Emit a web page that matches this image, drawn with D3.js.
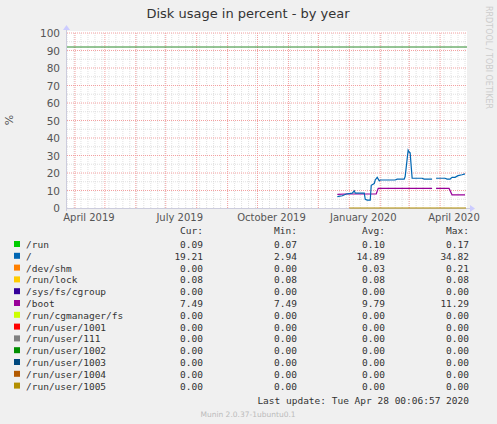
<!DOCTYPE html>
<html><head><meta charset="utf-8">
<script src="https://cdn.jsdelivr.net/npm/d3@7"></script>
<style>body{margin:0;background:#f0f0f0}svg{display:block}</style>
</head><body><svg id="chart" width="497" height="424"></svg>
<script>
const rootDates = ['2019-12-20','2019-12-25','2019-12-29','2020-01-04','2020-01-06','2020-01-07','2020-01-16','2020-01-17','2020-01-19','2020-01-22','2020-01-23','2020-01-26','2020-01-27','2020-01-29','2020-01-31','2020-02-01','2020-02-16','2020-02-18','2020-02-25','2020-02-26','2020-02-29','2020-03-01','2020-03-02','2020-03-04','2020-03-14','2020-03-16','2020-03-24',null,'2020-03-28','2020-04-06','2020-04-08','2020-04-11','2020-04-13','2020-04-16','2020-04-19','2020-04-23','2020-04-26']
const rootValues = [6.5,7,8,8.5,9.8,8.5,8.5,5,4.5,4.5,13,14,16,17.5,15.5,16,16,16.5,16.5,18,33,32,31.5,17,17,16.5,16.5,null,17,17,16.5,16.5,17.5,17.5,18.5,19,19.5]
const bootDates = ['2019-12-20','2019-12-29','2020-01-28','2020-01-30','2020-03-24',null,'2020-03-28','2020-04-10','2020-04-13','2020-04-26']
const bootValues = [7.8,8,8,11.2,11.2,null,11.2,11.2,7.5,7.5]
const zeroDates = ['2020-01-01','2020-04-27']
const warnLevel = 92
const names = ['/run','/','/dev/shm','/run/lock','/sys/fs/cgroup','/boot','/run/cgmanager/fs','/run/user/1001','/run/user/111','/run/user/1002','/run/user/1003','/run/user/1004','/run/user/1005']
const colors = ['#00cc00','#0066b3','#ff8000','#ffcc00','#330099','#990099','#ccff00','#ff0000','#808080','#008f00','#00487d','#b35a00','#b38f00']
const cur = ['0.09','19.21','0.00','0.08','0.00','7.49','0.00','0.00','0.00','0.00','0.00','0.00','0.00']
const mins = ['0.07','2.94','0.00','0.08','0.00','7.49','0.00','0.00','0.00','0.00','0.00','0.00','0.00']
const avgs = ['0.10','14.89','0.03','0.08','0.00','9.79','0.00','0.00','0.00','0.00','0.00','0.00','0.00']
const maxs = ['0.17','34.82','0.21','0.08','0.00','11.29','0.00','0.00','0.00','0.00','0.00','0.00','0.00']
const monthLabels = [['2019-04-15','April 2019'],['2019-07-15','July 2019'],['2019-10-15','October 2019'],['2020-01-15','January 2020'],['2020-04-15','April 2020']]

const svg = d3.select('#chart')
const p = d3.timeParse('%Y-%m-%d')
const L = 67, R = 467, T = 33, B = 208
const x = d3.scaleTime().domain([p('2019-03-24'), p('2020-04-28')]).range([L, R])
const y = d3.scaleLinear().domain([0, 100]).range([B, T])

svg.append('text').attr('x', 248).attr('y', 18).attr('text-anchor', 'middle')
  .attr('font-family', 'DejaVu Sans').attr('font-size', 13).attr('fill', '#333').text('Disk usage in percent - by year')
svg.append('text').attr('transform', 'translate(486,6) rotate(90)')
  .attr('font-family', 'DejaVu Sans').attr('font-size', 8).attr('fill', '#ccc').text('RRDTOOL / TOBI OETIKER')
svg.append('text').attr('transform', 'translate(13,120) rotate(-90)').attr('text-anchor', 'middle')
  .attr('font-family', 'DejaVu Sans').attr('font-size', 11).attr('fill', '#555').text('%')

svg.append('rect').attr('x', L).attr('y', T - 2).attr('width', R - L).attr('height', B - T + 2).attr('fill', '#fff')

const g = svg.append('g')
g.selectAll('.mx').data(x.ticks(d3.timeWeek)).join('line')
  .attr('x1', d => x(d)).attr('x2', d => x(d)).attr('y1', T).attr('y2', B)
  .attr('stroke', '#ccc').attr('stroke-dasharray', '1,1').attr('stroke-width', 0.6)
g.selectAll('.my').data(d3.range(5, 100, 10)).join('line')
  .attr('x1', L).attr('x2', R).attr('y1', d => y(d)).attr('y2', d => y(d))
  .attr('stroke', '#ccc').attr('stroke-dasharray', '1,1').attr('stroke-width', 0.6)
g.selectAll('.Mx').data(x.ticks(d3.timeMonth)).join('line')
  .attr('x1', d => x(d)).attr('x2', d => x(d)).attr('y1', T).attr('y2', B)
  .attr('stroke', '#f3a0a0').attr('stroke-dasharray', '1,1')
g.selectAll('.My').data(d3.range(10, 101, 10)).join('line')
  .attr('x1', L).attr('x2', R).attr('y1', d => y(d)).attr('y2', d => y(d))
  .attr('stroke', '#f3a0a0').attr('stroke-dasharray', '1,1')

svg.selectAll('.yl').data(d3.range(0, 101, 10)).join('text')
  .attr('x', L - 7).attr('y', d => y(d) + 4).attr('text-anchor', 'end')
  .attr('font-family', 'DejaVu Sans').attr('font-size', 10.5).attr('fill', '#555').text(d => d)
svg.selectAll('.xl').data(monthLabels).join('text')
  .attr('x', d => x(p(d[0]))).attr('y', B + 13).attr('text-anchor', 'middle')
  .attr('font-family', 'DejaVu Sans').attr('font-size', 10).attr('fill', '#555').text(d => d[1])

svg.append('line').attr('x1', L).attr('x2', R + 6).attr('y1', B + 0.5).attr('y2', B + 0.5).attr('stroke', '#ccd')
svg.append('line').attr('x1', L - 0.5).attr('x2', L - 0.5).attr('y1', B + 3).attr('y2', T - 6).attr('stroke', '#ccd')
svg.append('path').attr('d', `M${R + 3},${B - 3}L${R + 8},${B + 0.5}L${R + 3},${B + 4}Z`).attr('fill', '#ccf')
svg.append('path').attr('d', `M${L - 4},${T - 3}L${L - 0.5},${T - 8}L${L + 3},${T - 3}Z`).attr('fill', '#ccf')

svg.append('line').attr('x1', L).attr('x2', R).attr('y1', y(warnLevel)).attr('y2', y(warnLevel))
  .attr('stroke', '#2a8a2a').attr('stroke-width', 1)

const line = d3.line().defined(d => d[0] !== null).x(d => x(p(d[0]))).y(d => y(d[1]))
svg.append('path').datum(zeroDates.map(d => [d, 0])).attr('d', line).attr('fill', 'none').attr('stroke', colors[12]).attr('stroke-width', 1.2)
svg.append('path').datum(bootDates.map((d, i) => [d, bootValues[i]])).attr('d', line).attr('fill', 'none').attr('stroke', colors[5]).attr('stroke-width', 1.2)
svg.append('path').datum(rootDates.map((d, i) => [d, rootValues[i]])).attr('d', line).attr('fill', 'none').attr('stroke', colors[1]).attr('stroke-width', 1.2)

// legend
const lf = 'DejaVu Sans Mono', fs = 9.5, fc = '#333'
const hdr = [['Cur:', 203], ['Min:', 297], ['Avg:', 385], ['Max:', 469]]
svg.selectAll('.hd').data(hdr).join('text').attr('x', d => d[1]).attr('y', 234).attr('text-anchor', 'end')
  .attr('font-family', lf).attr('font-size', fs).attr('fill', fc).text(d => d[0])
const rows = svg.selectAll('.row').data(names).join('g').attr('transform', (d, i) => `translate(0,${248 + i * 11.8})`)
rows.append('rect').attr('x', 14).attr('y', -7).attr('width', 6).attr('height', 6).attr('fill', (d, i) => colors[i])
rows.append('text').attr('x', 26).attr('font-family', lf).attr('font-size', fs).attr('fill', fc).text(d => d)
;[[cur, 203], [mins, 297], [avgs, 385], [maxs, 469]].forEach(([arr, cx]) => {
  rows.append('text').attr('x', cx).attr('text-anchor', 'end').attr('font-family', lf).attr('font-size', fs).attr('fill', fc).text((d, i) => arr[i])
})
svg.append('text').attr('x', 469).attr('y', 404).attr('text-anchor', 'end')
  .attr('font-family', lf).attr('font-size', fs).attr('fill', fc).text('Last update: Tue Apr 28 00:06:57 2020')
svg.append('text').attr('x', 248).attr('y', 417).attr('text-anchor', 'middle')
  .attr('font-family', 'DejaVu Sans').attr('font-size', 7.5).attr('fill', '#bbb').text('Munin 2.0.37-1ubuntu0.1')
</script></body></html>
